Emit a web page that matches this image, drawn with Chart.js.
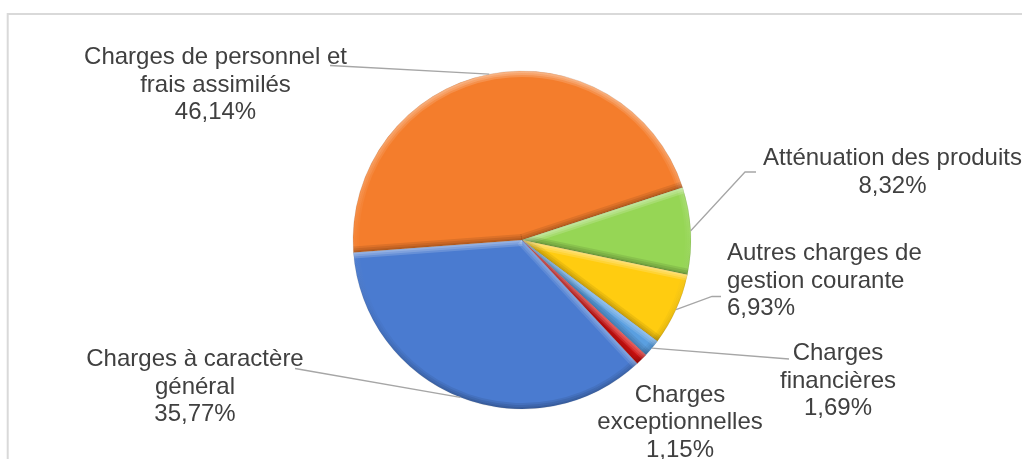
<!DOCTYPE html>
<html>
<head>
<meta charset="utf-8">
<script src="https://cdn.jsdelivr.net/npm/chart.js@4.4.0/dist/chart.umd.min.js"></script>
<style>
  html, body { margin: 0; padding: 0; background: #fff; }
  #wrap { position: relative; width: 1022px; height: 459px; }
</style>
</head>
<body>
<div id="wrap"><canvas id="pieChart"></canvas></div>
<script>
// Data
const categories = [
  'Charges à caractère général',
  'Charges de personnel et frais assimilés',
  'Atténuation des produits',
  'Autres charges de gestion courante',
  'Charges financières',
  'Charges exceptionnelles'
];
const shares = [35.77, 46.14, 8.32, 6.93, 1.69, 1.15];
// how each category name wraps in its label
const labelLines = [
  ['Charges à caractère', 'général'],
  ['Charges de personnel et', 'frais assimilés'],
  ['Atténuation des produits'],
  ['Autres charges de', 'gestion courante'],
  ['Charges', 'financières'],
  ['Charges', 'exceptionnelles']
];
const sliceColors = ['#4A7BD0', '#F47D2C', '#96D655', '#FFCC10', '#5A9FE0', '#D41010'];

// Label layout (first baseline, alignment, leader elbow points)
const labelPlacement = [
  { x: 195,   y: 366,   align: 'center', leader: [[295, 368.5]] },
  { x: 215.5, y: 64,    align: 'center', leader: [[330, 65.5]] },
  { x: 892.5, y: 165,   align: 'center', leader: [[756, 172], [745, 172]] },
  { x: 727,   y: 260,   align: 'left',   leader: [[721, 296.5], [712, 296.5]] },
  { x: 838,   y: 360,   align: 'center', leader: [[789, 359]] },
  { x: 680,   y: 401.5, align: 'center', leader: null }
];
const lineHeight = 27.5;

function formatPct(v) {
  return v.toFixed(2).replace('.', ',') + '%';
}

// Light grey frame of the chart area
const framePlugin = {
  id: 'frame',
  beforeDraw(chart) {
    const ctx = chart.ctx;
    ctx.save();
    ctx.strokeStyle = '#d9d9d9';
    ctx.lineWidth = 2;
    ctx.strokeRect(7.7, 14, 1200, 600);
    ctx.restore();
  }
};

// Soft bevel: light rims facing up, dark rims facing down
const bevelPlugin = {
  id: 'bevel',
  afterDatasetsDraw(chart) {
    const ctx = chart.ctx;
    const widths = [12, 8, 4];
    chart.getDatasetMeta(0).data.forEach(arc => {
      const { x, y, startAngle, endAngle, outerRadius } =
        arc.getProps(['x', 'y', 'startAngle', 'endAngle', 'outerRadius'], true);
      ctx.save();
      ctx.beginPath();
      ctx.moveTo(x, y);
      ctx.arc(x, y, outerRadius, startAngle, endAngle);
      ctx.closePath();
      ctx.clip();

      widths.forEach(w => {
        ctx.lineWidth = w;
        const g = ctx.createLinearGradient(0, y - outerRadius, 0, y + outerRadius);
        g.addColorStop(0, 'rgba(255,255,255,0.16)');
        g.addColorStop(0.5, 'rgba(255,255,255,0.02)');
        g.addColorStop(0.75, 'rgba(0,0,0,0.03)');
        g.addColorStop(1, 'rgba(0,0,0,0.09)');
        ctx.strokeStyle = g;
        ctx.beginPath();
        ctx.arc(x, y, outerRadius, startAngle, endAngle);
        ctx.stroke();

        [[startAngle, Math.cos(startAngle)], [endAngle, -Math.cos(endAngle)]].forEach(([a, ny]) => {
          ctx.strokeStyle = ny > 0
            ? `rgba(255,255,255,${(0.16 * ny).toFixed(3)})`
            : `rgba(0,0,0,${(-0.09 * ny).toFixed(3)})`;
          ctx.beginPath();
          ctx.moveTo(x, y);
          ctx.lineTo(x + Math.cos(a) * outerRadius, y + Math.sin(a) * outerRadius);
          ctx.stroke();
        });
      });
      ctx.restore();
    });
  }
};

// Data labels with leader lines
const labelsPlugin = {
  id: 'sliceLabels',
  afterDraw(chart) {
    const ctx = chart.ctx;
    const arcs = chart.getDatasetMeta(0).data;
    ctx.save();
    ctx.font = '24px "Liberation Sans", Arial, sans-serif';
    ctx.fillStyle = '#404040';
    ctx.strokeStyle = '#a6a6a6';
    ctx.lineWidth = 1.3;
    ctx.textBaseline = 'alphabetic';
    categories.forEach((c, i) => {
      const p = labelPlacement[i];
      const arc = arcs[i];
      if (p.leader) {
        const mid = (arc.startAngle + arc.endAngle) / 2;
        const ex = arc.x + Math.cos(mid) * arc.outerRadius;
        const ey = arc.y + Math.sin(mid) * arc.outerRadius;
        ctx.beginPath();
        ctx.moveTo(p.leader[0][0], p.leader[0][1]);
        p.leader.slice(1).forEach(pt => ctx.lineTo(pt[0], pt[1]));
        ctx.lineTo(ex, ey);
        ctx.stroke();
      }
      const lines = [...labelLines[i], formatPct(shares[i])];
      ctx.textAlign = p.align;
      lines.forEach((t, k) => ctx.fillText(t, p.x, p.y + k * lineHeight));
    });
    ctx.restore();
  }
};

const ctx = document.getElementById('pieChart').getContext('2d');
new Chart(ctx, {
  type: 'pie',
  data: {
    labels: categories,
    datasets: [{
      data: shares,
      backgroundColor: sliceColors,
      borderColor: 'rgba(0,0,0,0.15)',
      borderWidth: 0.6,
      hoverOffset: 0
    }]
  },
  options: {
    responsive: true,
    maintainAspectRatio: false,
    animation: false,
    rotation: 137,
    radius: 169,
    layout: {
      padding: { left: 353, right: 331, top: 71, bottom: 50 }
    },
    plugins: {
      legend: { display: false },
      tooltip: { enabled: false }
    }
  },
  plugins: [framePlugin, bevelPlugin, labelsPlugin]
});
</script>
</body>
</html>
